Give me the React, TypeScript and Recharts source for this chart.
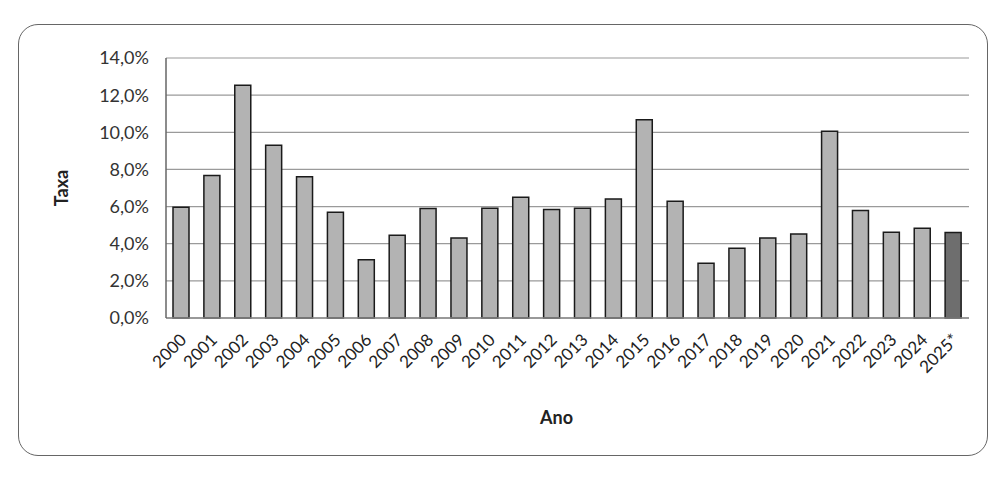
import { BarChart, Bar, Cell, XAxis, YAxis, CartesianGrid } from "recharts";

const YEARS = [
  "2000", "2001", "2002", "2003", "2004", "2005", "2006", "2007", "2008", "2009",
  "2010", "2011", "2012", "2013", "2014", "2015", "2016", "2017", "2018", "2019",
  "2020", "2021", "2022", "2023", "2024", "2025*",
];
const RATES = [
  5.97, 7.67, 12.53, 9.3, 7.6, 5.69, 3.14, 4.46, 5.9, 4.31,
  5.91, 6.5, 5.84, 5.91, 6.41, 10.67, 6.29, 2.95, 3.75, 4.31,
  4.52, 10.06, 5.79, 4.62, 4.83, 4.6,
];
const Y_TICKS = [0, 2, 4, 6, 8, 10, 12, 14];

const data = YEARS.map((ano, i) => ({ ano, taxa: RATES[i] }));

const FONT = "Lato, 'Open Sans', sans-serif";

const fmtPct = (v: number) => `${v.toFixed(1).replace(".", ",")}%`;

function YearTick({ x, y, payload }: any) {
  return (
    <text
      x={x + 6}
      y={y + 15}
      transform={`rotate(-45 ${x + 6} ${y + 15})`}
      textAnchor="end"
      fontSize={17}
      fontFamily={FONT}
      fill="#222"
    >
      {payload.value}
    </text>
  );
}

export default function App() {
  return (
    <div style={{ position: "absolute", left: 0, top: 0, width: 995, height: 477, background: "#fff" }}>
      <div
        style={{
          position: "absolute",
          left: 18,
          top: 24,
          width: 968,
          height: 430,
          border: "1.5px solid #666",
          borderRadius: 20,
        }}
      />
      <BarChart
        width={995}
        height={477}
        data={data}
        margin={{ top: 58, right: 26, left: 40, bottom: 39 }}
        barSize={16}
        style={{ position: "absolute", left: 0, top: 0 }}
      >
        <CartesianGrid vertical={false} stroke="#9a9a9a" strokeWidth={1.2} />
        <XAxis
          dataKey="ano"
          interval={0}
          height={120}
          tickLine={false}
          axisLine={{ stroke: "#888", strokeWidth: 1.5 }}
          tick={<YearTick />}
          label={{
            value: "Ano",
            position: "insideBottom",
            offset: 14,
            dx: -11,
            fontSize: 18,
            fontWeight: 700,
            fontFamily: FONT,
            fill: "#222",
          }}
        />
        <YAxis
          width={126}
          domain={[0, 14]}
          ticks={Y_TICKS}
          tickFormatter={fmtPct}
          tickLine={false}
          tickMargin={11}
          axisLine={{ stroke: "#666", strokeWidth: 1.5 }}
          tick={{ fontSize: 18, fontFamily: FONT, fill: "#333" }}
          label={{
            value: "Taxa",
            angle: -90,
            position: "insideLeft",
            offset: 22,
            textAnchor: "middle",
            fontSize: 18,
            fontWeight: 700,
            fontFamily: FONT,
            fill: "#222",
          }}
        />
        <Bar dataKey="taxa" stroke="#1a1a1a" strokeWidth={1.5} isAnimationActive={false}>
          {data.map((d, i) => (
            <Cell key={d.ano} fill={i === data.length - 1 ? "#6e6e6e" : "#b3b3b3"} />
          ))}
        </Bar>
      </BarChart>
    </div>
  );
}
